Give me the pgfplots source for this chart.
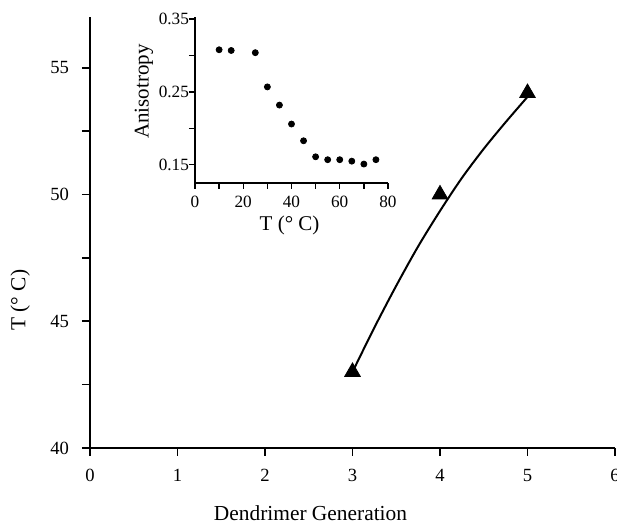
\documentclass[border=0pt]{standalone}
\usepackage{fontspec}
\setmainfont{Liberation Serif}
\usepackage{pgfplots}
\pgfplotsset{compat=1.18}
\begin{document}
\begin{tikzpicture}
\begin{axis}[
  name=main,
  at={(0,0)}, anchor=south west,
  scale only axis, width=262.5pt, height=215.5pt,
  xmin=0, xmax=6, ymin=40, ymax=57,
  axis x line=bottom, axis y line=left,
  axis line style={-, line width=1pt},
  xtick={0,1,2,3,4,5,6},
  ytick={40,45,50,55},
  minor ytick={42.5,47.5,52.5},
  tick align=outside,
  major tick length=4pt, minor tick length=4pt,
  every tick/.style={black, line width=0.8pt},
  /pgf/number format/assume math mode=true,
  ticklabel style={font=\fontsize{9.3}{10}\selectfont},
  xticklabel style={yshift=-3pt},
  yticklabel style={xshift=-3pt},
  xlabel={Dendrimer Generation},
  ylabel={T (° C)},
  label style={font=\fontsize{10.7}{12}\selectfont},
  xlabel style={at={(axis description cs:0.42,-0.152)}, anchor=center},
  ylabel style={at={(axis description cs:-0.133,0.343)}, anchor=center},
  clip=false,
]
% fitted curve as drawn in the figure
\addplot[black, line width=1pt, smooth, no markers] coordinates {
  (3.00,43.0) (3.25,44.75) (3.50,46.4) (3.75,47.95) (4.00,49.35)
  (4.25,50.65) (4.50,51.8) (4.75,52.85) (5.00,53.85)};
% measured points
\addplot[only marks, black, mark=triangle*, mark size=4.5pt] coordinates {
  (3,43) (4,50) (5,54)};
\end{axis}
\begin{axis}[
  at={(52.5pt,132.5pt)}, anchor=south west,
  scale only axis, width=96.5pt, height=83pt,
  xmin=0, xmax=80, ymin=0.125, ymax=0.353,
  axis x line=bottom, axis y line=left,
  axis line style={-, line width=0.9pt},
  xtick={0,20,40,60,80},
  minor xtick={10,30,50,70},
  ytick={0.15,0.25,0.35},
  minor ytick={0.2,0.3},
  tick align=outside,
  major tick length=3pt, minor tick length=3pt,
  every tick/.style={black, line width=0.7pt},
  /pgf/number format/assume math mode=true,
  yticklabel style={xshift=3.5pt, /pgf/number format/fixed,
    /pgf/number format/precision=2, /pgf/number format/fixed zerofill},
  ticklabel style={font=\fontsize{8.6}{10}\selectfont},
  xlabel={T (° C)},
  ylabel={Anisotropy},
  label style={font=\fontsize{10.5}{12}\selectfont},
  xlabel style={at={(axis description cs:0.49,-0.253)}, anchor=center},
  ylabel style={at={(axis description cs:-0.265,0.55)}, anchor=center},
  clip=false,
]
\addplot[only marks, mark=*, mark size=1.5pt, black] coordinates {
  (10,0.308) (15,0.307) (25,0.304) (30,0.257) (35,0.232) (40,0.206)
  (45,0.183) (50,0.161) (55,0.157) (60,0.157) (65,0.155) (70,0.151) (75,0.157)};
\end{axis}
\pgfresetboundingbox
\path[use as bounding box] (-45pt,-38.5pt) rectangle (263.5pt,224pt);
\end{tikzpicture}
\end{document}
